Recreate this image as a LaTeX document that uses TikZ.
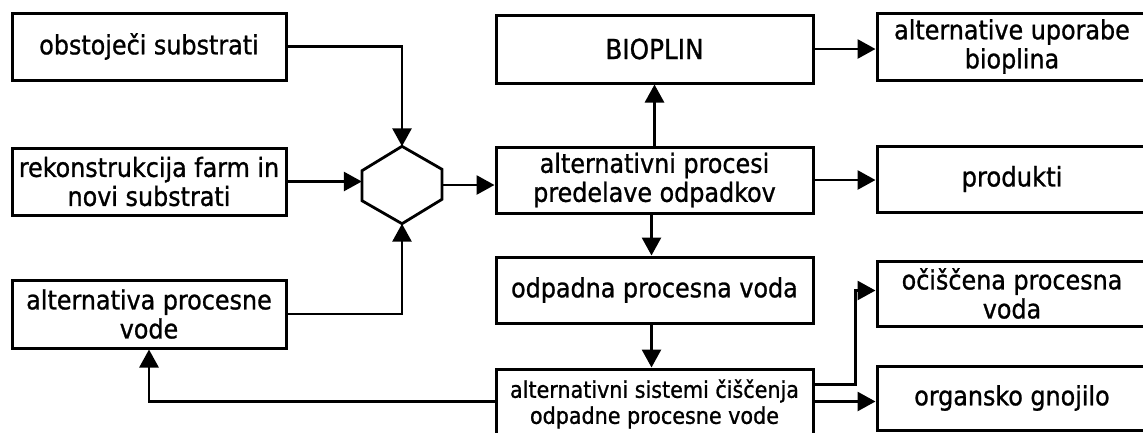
\documentclass[tikz,border=0pt]{standalone}
\usepackage{fontspec}
\newfontfamily\labelfont{DejaVu Sans Condensed}[FakeBold=1]
\usetikzlibrary{arrows.meta,calc}

\newcommand\fsz[1]{\labelfont\fontsize{#1}{29}\selectfont}

\begin{document}
\begin{tikzpicture}[x=1pt,y=-1pt,
  box/.style={draw, line width=3pt, inner sep=0pt, align=center,
    font=\fsz{26.5}},
  lbox/.style={box, minimum width=274pt},
  mbox/.style={box, minimum width=317pt},
  rbox/.style={box, minimum width=270pt},
  txt/.style={inner sep=0pt, align=center},
  arr/.style={line width=2.8pt, -{Triangle[length=18pt,width=19pt]}}]
\useasboundingbox (0,0) rectangle (1143,432);
\clip (0,0) rectangle (1143,432);

% left column: inputs
\node[lbox, minimum height=67pt] (obst) at (149,46.5) {obstoječi substrati};
\node[lbox, minimum height=67pt] (rek) at (149,181.5) {rekonstrukcija farm in\\novi substrati};
\node[lbox, minimum height=68pt] (altpv) at (149,314) {alternativa procesne\\vode};

% hexagonal mixing unit
\node[minimum width=80pt, minimum height=77pt, inner sep=0pt] (hex) at (402,185) {};
\draw[line width=2.8pt, line join=miter]
  (hex.north) -- ++(40,23) -- ++(0,30) -- (hex.south) -- ++(-40,-23) -- ++(0,-30) -- cycle;

% middle column: processes
\node[mbox, minimum height=68pt, font=\fsz{27.5}] (bioplin) at (654.5,49) {BIOPLIN};
\node[mbox, minimum height=66pt] (proc) at (654.5,180) {alternativni procesi\\predelave odpadkov};
\node[mbox, minimum height=66pt] (odpadna) at (654.5,290) {odpadna procesna voda};
\node[mbox, minimum height=90pt] (sistemi) at (654.5,414) {};
\node[txt, font={\labelfont\fontsize{23}{26}\selectfont}] (sistemitxt) at (654.5,404)
  {alternativni sistemi čiščenja\\odpadne procesne vode};

% right column: outputs
\node[rbox, minimum height=67pt] (altup) at (1012,46.5) {alternative uporabe\\bioplina};
\node[rbox, minimum height=66pt, font=\fsz{27}] (produkti) at (1012,179) {produkti};
\node[rbox, minimum height=65pt] (ocisc) at (1012,293.5) {očiščena procesna\\voda};
\node[rbox, minimum height=64pt] (organsko) at (1012,398) {organsko gnojilo};

% connectors into the mixer
\draw[arr] (obst.east) -| (hex.north);
\draw[arr] (rek.east) -- (rek.east -| hex.west);
\draw[arr] (altpv.east) -| (hex.south);
\draw[arr] (hex.east) -- (hex.east -| proc.west);

% process flow
\draw[arr] (proc.north) -- (bioplin.south);
\draw[arr] (bioplin.east) -- (bioplin.east -| altup.west);
\draw[arr] (proc.east) -- (proc.east -| produkti.west);
\draw[arr] ([xshift=-3pt]proc.south) -- ([xshift=-3pt]odpadna.north);
\draw[arr] ([xshift=-3pt]odpadna.south) -- ([xshift=-3pt]sistemi.north);

% outputs of the treatment stage
\coordinate (sOutA) at ([yshift=-17pt]sistemi.north east);
\coordinate (sOutB) at ([yshift=-34pt]sistemi.north east);
\coordinate (sOutC) at ([yshift=-34pt]sistemi.north west);
\coordinate (sBend) at ($(ocisc.west)+(-20,-3)$);
\draw[arr] (sOutA) -| (sBend) -- (sBend -| ocisc.west);
\draw[arr] (sOutB) -- (sOutB -| organsko.west);
\draw[arr] (sOutC) -| (altpv.south);
\end{tikzpicture}
\end{document}
